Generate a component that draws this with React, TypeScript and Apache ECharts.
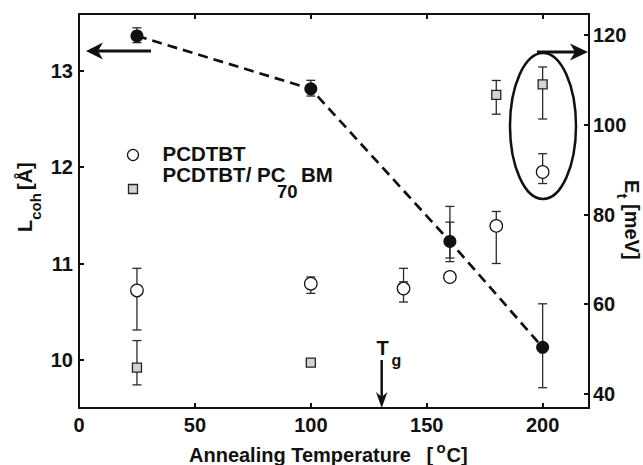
import React, { useEffect, useRef } from 'react';
import * as echarts from 'echarts';

// ---------- data ----------
const pcdtbtTemps = [25, 100, 140, 160, 180, 200];
const pcdtbtLcoh = [10.72, 10.79, 10.74, 10.86, 11.39, 11.95];
const blendTemps = [25, 100, 180, 200];
const blendLcoh = [9.92, 9.97, 12.75, 12.86];
const etTemps = [25, 100, 160, 200];
const etValues = [119.8, 108.0, 74.0, 50.4];

// error bars: [temperature, low, high]
const pcdtbtErr = [
  [25, 10.31, 10.95],
  [100, 10.69, 10.86],
  [140, 10.6, 10.95],
  [140, 10.69, 10.81],
  [180, 11.0, 11.54],
  [200, 11.83, 12.14],
];
const blendErr = [
  [25, 9.74, 10.2],
  [180, 12.55, 12.9],
  [200, 12.5, 13.04],
];
const etErr = [
  [25, 118.3, 121.6],
  [100, 106.4, 109.9],
  [160, 69.5, 81.8],
  [160, 70.3, 78.3],
  [200, 41.4, 60.1],
];

// ticks
const xTicks = [0, 50, 100, 150, 200];
const lcohTicks = [10, 11, 12, 13];
const etTicks = [40, 60, 80, 100, 120];

// ---------- helpers ----------
const FONT = 'Liberation Sans, Arial, Helvetica, sans-serif';
const INK = '#111';

function textEl(t: string, size: number, x: number, y: number, align = 'left') {
  return {
    type: 'text',
    x,
    y,
    style: {
      text: t,
      font: `bold ${size}px ${FONT}`,
      fill: INK,
      align,
      verticalAlign: 'middle',
      textAlign: align,
      textVerticalAlign: 'middle',
    },
  };
}

function errSeries(data: number[][], yAxisIndex: number) {
  return {
    type: 'custom',
    yAxisIndex,
    xAxisIndex: 0,
    z: 1,
    silent: true,
    data,
    encode: { x: 0, y: [1, 2] },
    renderItem: (_params: any, api: any) => {
      const x = api.value(0);
      const lo = api.coord([x, api.value(1)]);
      const hi = api.coord([x, api.value(2)]);
      const hw = 4.5;
      const st = { stroke: '#2a2a2a', lineWidth: 1.3 };
      return {
        type: 'group',
        children: [
          { type: 'line', shape: { x1: lo[0], y1: lo[1], x2: hi[0], y2: hi[1] }, style: st },
          { type: 'line', shape: { x1: lo[0] - hw, y1: lo[1], x2: lo[0] + hw, y2: lo[1] }, style: st },
          { type: 'line', shape: { x1: hi[0] - hw, y1: hi[1], x2: hi[0] + hw, y2: hi[1] }, style: st },
        ],
      };
    },
  };
}

const labelFont = { fontFamily: FONT, fontWeight: 'bold' as const, fontSize: 20, color: INK };
const axisLine = { show: true, onZero: false, lineStyle: { color: INK, width: 2 } };
const tickStyle = { color: INK, width: 2 };

export default function App() {
  const ref = useRef<HTMLDivElement>(null);

  useEffect(() => {
    document.body.style.margin = '0';
    if (!ref.current) return;
    const chart = echarts.init(ref.current, undefined, { renderer: 'svg' });

    const graphic: any[] = [
      // left axis title: L_coh [Å]  (rotated, reads bottom to top)
      {
        type: 'group',
        x: 25,
        y: 200,
        rotation: Math.PI / 2,
        children: [
          textEl('L', 20, -32, 0),
          textEl('coh', 15, -19.8, 10),
          textEl('[Å]', 20, 10, 0),
        ],
      },
      // right axis title: E_t [meV]  (rotated, reads top to bottom)
      {
        type: 'group',
        x: 632,
        y: 218,
        rotation: -Math.PI / 2,
        children: [
          textEl('E', 20, -38, 0),
          textEl('t', 15, -24.5, 10),
          textEl('[meV]', 20, -14, 0),
        ],
      },
      // x axis title
      textEl('Annealing Temperature', 20, 189, 454.5),
      textEl('[', 20, 426.5, 454.5),
      textEl('o', 15, 436.5, 447.5),
      textEl('C]', 20, 446.5, 454.5),
      // legend
      { type: 'circle', shape: { cx: 133, cy: 155, r: 5.5 }, style: { fill: '#fff', stroke: INK, lineWidth: 1.2 } },
      textEl('PCDTBT', 20.5, 162.5, 153.5),
      { type: 'rect', shape: { x: 128.5, y: 184.5, width: 9, height: 9 }, style: { fill: '#d6d3cc', stroke: '#222', lineWidth: 1.3 } },
      textEl('PCDTBT/ PC', 20.5, 162.5, 174.5),
      textEl('70', 18.5, 277, 191.5),
      textEl('BM', 20.5, 301, 174.5),
      // left arrow
      { type: 'line', shape: { x1: 151, y1: 51, x2: 96, y2: 51 }, style: { stroke: INK, lineWidth: 3 } },
      { type: 'polygon', shape: { points: [[86, 51], [103, 42.5], [98, 51], [103, 59.5]] }, style: { fill: INK } },
      // right arrow
      { type: 'line', shape: { x1: 537, y1: 52, x2: 578, y2: 52 }, style: { stroke: INK, lineWidth: 3 } },
      { type: 'polygon', shape: { points: [[588, 52], [570, 43.5], [575, 52], [570, 60.5]] }, style: { fill: INK } },
      // ellipse
      { type: 'ellipse', shape: { cx: 543, cy: 126, rx: 33, ry: 73 }, style: { fill: 'none', stroke: INK, lineWidth: 2.5 } },
      // Tg arrow
      { type: 'line', shape: { x1: 381.7, y1: 360, x2: 381.7, y2: 400 }, style: { stroke: INK, lineWidth: 2.5 } },
      { type: 'polygon', shape: { points: [[376, 392], [381.7, 408], [387.4, 392], [381.7, 397]] }, style: { fill: INK } },
      textEl('T', 20, 382.7, 348, 'center'),
      textEl('g', 16, 391.5, 360),
    ];

    chart.setOption({
      animation: false,
      backgroundColor: '#fff',
      grid: { left: 79, right: 54, top: 14, bottom: 57, containLabel: false, outerBoundsMode: 'none' },
      xAxis: [
        {
          type: 'value',
          position: 'bottom',
          min: 0,
          max: 220,
          interval: 50,
          axisLine,
          axisTick: { show: true, inside: true, length: 5, lineStyle: tickStyle, customValues: xTicks },
          axisLabel: { ...labelFont, margin: 7, customValues: xTicks },
          splitLine: { show: false },
        },
        {
          type: 'value',
          position: 'top',
          min: 0,
          max: 220,
          interval: 50,
          axisLine,
          axisTick: { show: true, inside: true, length: 5, lineStyle: tickStyle, customValues: xTicks },
          axisLabel: { show: false },
          splitLine: { show: false },
        },
      ],
      yAxis: [
        {
          type: 'value',
          position: 'left',
          min: 9.5,
          max: 13.59,
          axisLine,
          axisTick: { show: true, inside: true, length: 5, lineStyle: tickStyle, customValues: lcohTicks },
          axisLabel: { ...labelFont, margin: 6, customValues: lcohTicks },
          splitLine: { show: false },
        },
        {
          type: 'value',
          position: 'right',
          min: 36.88,
          max: 124.68,
          axisLine,
          axisTick: { show: true, inside: true, length: 5, lineStyle: tickStyle, customValues: etTicks },
          axisLabel: { ...labelFont, margin: 4, customValues: etTicks },
          splitLine: { show: false },
        },
      ],
      series: [
        errSeries(pcdtbtErr, 0),
        errSeries(blendErr, 0),
        errSeries(etErr, 1),
        {
          name: 'PCDTBT',
          type: 'scatter',
          yAxisIndex: 0,
          z: 3,
          symbol: 'circle',
          symbolSize: 12.5,
          itemStyle: { color: '#fff', borderColor: INK, borderWidth: 1.2, opacity: 1 },
          data: pcdtbtTemps.map((t, i) => [t, pcdtbtLcoh[i]]),
        },
        {
          name: 'PCDTBT/ PC70BM',
          type: 'scatter',
          yAxisIndex: 0,
          z: 3,
          symbol: 'rect',
          symbolSize: 9,
          itemStyle: { color: '#d6d3cc', borderColor: '#222', borderWidth: 1.3, opacity: 1 },
          data: blendTemps.map((t, i) => [t, blendLcoh[i]]),
        },
        {
          name: 'Et',
          type: 'line',
          yAxisIndex: 1,
          z: 3,
          symbol: 'circle',
          symbolSize: 13,
          itemStyle: { color: INK },
          lineStyle: { color: INK, width: 2.7, type: [10, 6] },
          data: etTemps.map((t, i) => [t, etValues[i]]),
        },
      ],
      graphic: { elements: graphic.map((g) => ({ ...g, z: 10 })) },
    });

    return () => chart.dispose();
  }, []);

  return <div ref={ref} style={{ width: 643, height: 465 }} />;
}
